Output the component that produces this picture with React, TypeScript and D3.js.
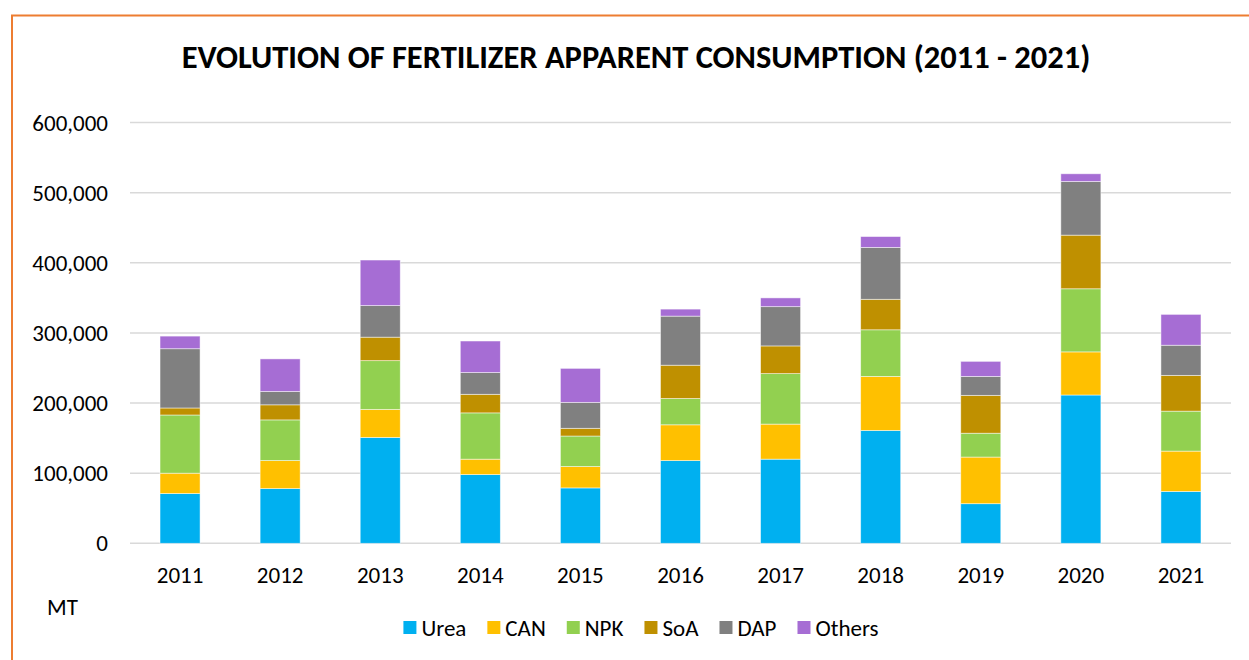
import React, { useRef, useEffect } from 'react';
import * as d3 from 'd3';

// chart values, metric tonnes
const years = ['2011', '2012', '2013', '2014', '2015', '2016', '2017', '2018', '2019', '2020', '2021'];
const seriesNames = ['Urea', 'CAN', 'NPK', 'SoA', 'DAP', 'Others'];
const urea = [71000, 78000, 151000, 98000, 79000, 118000, 120000, 161000, 56500, 211500, 74000];
const can = [29000, 40000, 40000, 22000, 30500, 51000, 50000, 77000, 66500, 61500, 57500];
const npk = [83000, 58000, 69500, 66000, 43500, 37500, 72000, 66500, 34000, 90000, 57000];
const soa = [10000, 21500, 33500, 26500, 11000, 47500, 39500, 43500, 54000, 76500, 51000];
const dap = [84500, 19000, 45000, 31000, 37000, 70000, 56000, 74000, 27000, 76500, 43000];
const others = [18000, 46500, 65000, 45000, 48500, 10000, 12500, 15500, 21500, 11000, 44000];
const colors = ['#00B0F0', '#FFC000', '#92D050', '#BF9000', '#808080', '#A66DD4'];
const yTicks = [0, 100000, 200000, 300000, 400000, 500000, 600000];

const FONT = "Carlito, 'Open Sans', 'Noto Sans', sans-serif";
const LABEL_SIZE = '23px';

export default function App() {
  const ref = useRef<SVGSVGElement>(null);
  const width = 1249;
  const height = 660;
  const plot = { left: 130, right: 1231, top: 122.6, bottom: 543.3 };

  useEffect(() => {
    const svg = d3.select(ref.current);
    svg.selectAll('*').remove();

    // outer orange frame
    svg.append('rect')
      .attr('x', 12).attr('y', 15.5)
      .attr('width', width + 20).attr('height', height + 20)
      .attr('fill', '#fff')
      .attr('stroke', '#ED7D31').attr('stroke-width', 2);

    svg.append('text')
      .attr('x', 636).attr('y', 68)
      .attr('text-anchor', 'middle')
      .style('font-family', FONT).style('font-weight', 'bold').style('font-size', '32.5px')
      .attr('fill', '#000')
      .text('EVOLUTION OF FERTILIZER APPARENT CONSUMPTION (2011 - 2021)');

    const table = years.map((y, i) => ({
      year: y, Urea: urea[i], CAN: can[i], NPK: npk[i], SoA: soa[i], DAP: dap[i], Others: others[i]
    }));
    const stacked = d3.stack<any>().keys(seriesNames)(table);

    const x = d3.scaleBand()
      .domain(years)
      .range([plot.left, plot.right])
      .paddingInner(0.6)
      .paddingOuter(0.3);

    const y = d3.scaleLinear()
      .domain([0, 600000])
      .range([plot.bottom, plot.top]);

    // gridlines
    svg.append('g')
      .selectAll('line')
      .data(yTicks)
      .enter()
      .append('line')
      .attr('x1', plot.left).attr('x2', plot.right)
      .attr('y1', d => y(d)).attr('y2', d => y(d))
      .attr('stroke', '#d9d9d9').attr('stroke-width', 1.5);

    // y labels
    svg.append('g')
      .selectAll('text')
      .data(yTicks)
      .enter()
      .append('text')
      .attr('x', 108)
      .attr('y', d => y(d) + 8)
      .attr('text-anchor', 'end')
      .style('font-family', FONT).style('font-size', LABEL_SIZE)
      .attr('fill', '#000')
      .text(d => d3.format(',')(d));

    // bars
    svg.append('g')
      .selectAll('g')
      .data(stacked)
      .enter()
      .append('g')
      .attr('fill', (d, i) => colors[i])
      .selectAll('rect')
      .data(d => d)
      .enter()
      .append('rect')
      .attr('x', d => x(d.data.year)!)
      .attr('y', d => y(d[1]))
      .attr('width', x.bandwidth())
      .attr('height', d => y(d[0]) - y(d[1]))
      .attr('stroke', 'rgba(255,255,255,0.6)')
      .attr('stroke-width', 0.8);

    // x labels
    svg.append('g')
      .selectAll('text')
      .data(years)
      .enter()
      .append('text')
      .attr('x', d => x(d)! + x.bandwidth() / 2)
      .attr('y', 583)
      .attr('text-anchor', 'middle')
      .style('font-family', FONT).style('font-size', LABEL_SIZE)
      .attr('fill', '#000')
      .text(d => d);

    svg.append('text')
      .attr('x', 47).attr('y', 615)
      .style('font-family', FONT).style('font-size', LABEL_SIZE)
      .attr('fill', '#000')
      .text('MT');

    // legend, measured then centred
    const legend = svg.append('g');
    let cx = 0;
    seriesNames.forEach((name, i) => {
      const item = legend.append('g').attr('transform', `translate(${cx},0)`);
      item.append('rect')
        .attr('x', 0).attr('y', 621)
        .attr('width', 13).attr('height', 13)
        .attr('fill', colors[i]);
      const t = item.append('text')
        .attr('x', 18).attr('y', 636)
        .style('font-family', FONT).style('font-size', LABEL_SIZE)
        .attr('fill', '#000')
        .text(name);
      const w = (t.node() as SVGTextElement).getComputedTextLength();
      cx += 18 + w + 21;
    });
    const total = cx - 21;
    legend.attr('transform', `translate(${641 - total / 2},0)`);
  }, []);

  return (
    <svg ref={ref} width={width} height={height}
      style={{ position: 'absolute', left: 0, top: 0, background: '#fff' }} />
  );
}
